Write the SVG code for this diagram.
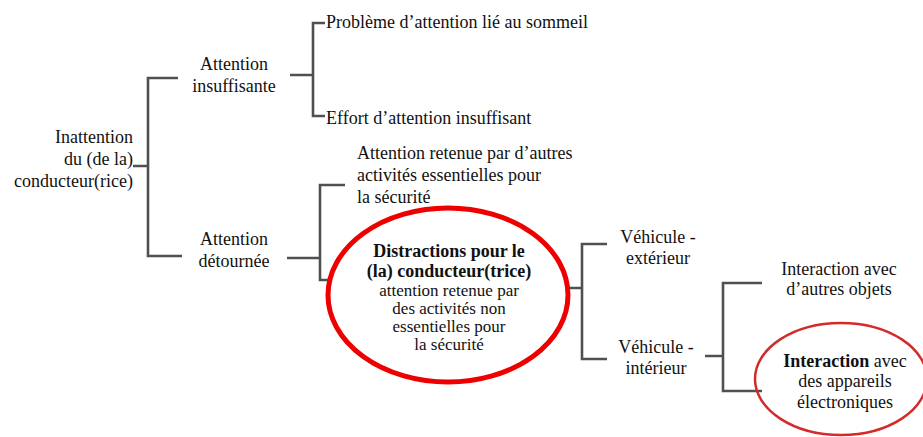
<svg xmlns="http://www.w3.org/2000/svg" width="923" height="437" viewBox="0 0 923 437">
<style>
text{font-family:"Liberation Serif","Times New Roman",Times,"DejaVu Serif",serif;font-size:18px;fill:#111}
.c{text-anchor:middle}
.r{text-anchor:end}
.b{font-weight:bold}
.s{font-size:17px}
.ln{fill:none;stroke:#505050;stroke-width:2.6}
</style>
<rect width="923" height="437" fill="#fff"/>
<g id="connectors">
<path class="ln" d="M133,166 H148 M178,78 H148 V256 H182"/>
<path class="ln" d="M290,75 H313 M325,23 H313 V116 H325"/>
<path class="ln" d="M287,258 H320 M345,185 H320 V280 H332"/>
<path class="ln" d="M569,288 H582 M607,244 H582 V359 H607"/>
<path class="ln" d="M705,356 H723 M762,283 H723 V391 H762"/>
</g>
<g id="root">
<text class="r" x="133" y="143">Inattention</text>
<text class="r" x="133" y="165">du (de la)</text>
<text class="r" x="133" y="187">conducteur(rice)</text>
</g>
<g id="insuffisante">
<text class="c" x="234" y="70">Attention</text>
<text class="c" x="234" y="92">insuffisante</text>
</g>
<g id="sommeil"><text x="326" y="28">Problème d’attention lié au sommeil</text></g>
<g id="effort"><text x="326" y="124">Effort d’attention insuffisant</text></g>
<g id="detournee">
<text class="c" x="234" y="245">Attention</text>
<text class="c" x="234" y="267">détournée</text>
</g>
<g id="essentielles">
<text x="357" y="159">Attention retenue par d’autres</text>
<text x="357" y="181">activités essentielles pour</text>
<text x="357" y="203">la sécurité</text>
</g>
<g id="distractions">
<ellipse cx="448" cy="295" rx="120" ry="87" fill="none" stroke="#ee0000" stroke-width="5"/>
<text class="c b" x="449" y="257">Distractions pour le</text>
<text class="c b" x="449" y="277">(la) conducteur(trice)</text>
<text class="c s" x="449" y="296">attention retenue par</text>
<text class="c s" x="449" y="314">des activités non</text>
<text class="c s" x="449" y="332">essentielles pour</text>
<text class="c s" x="449" y="350">la sécurité</text>
</g>
<g id="exterieur">
<text class="c" x="658" y="243">Véhicule -</text>
<text class="c" x="658" y="264">extérieur</text>
</g>
<g id="interieur">
<text class="c" x="656" y="353">Véhicule -</text>
<text class="c" x="656" y="374">intérieur</text>
</g>
<g id="autres">
<text class="c" x="839" y="275">Interaction avec</text>
<text class="c" x="839" y="295">d’autres objets</text>
</g>
<g id="appareils">
<ellipse cx="841" cy="379" rx="86" ry="56" fill="none" stroke="#d42a2a" stroke-width="2.5"/>
<text class="c" x="845" y="367"><tspan class="b">Interaction</tspan> avec</text>
<text class="c" x="845" y="387">des appareils</text>
<text class="c" x="845" y="408">électroniques</text>
</g>
</svg>
